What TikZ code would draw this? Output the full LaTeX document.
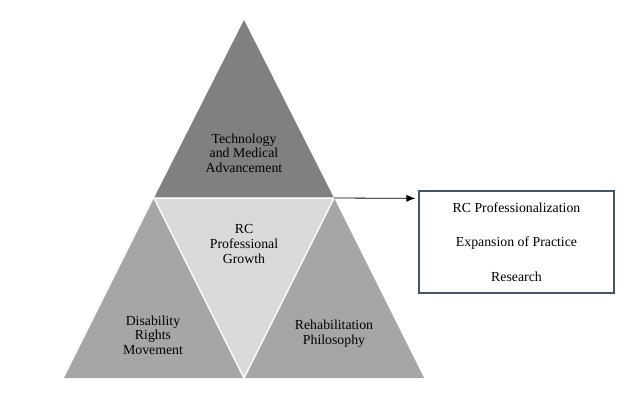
\documentclass[tikz,border=0pt]{standalone}
\usepackage{fontspec}
\setmainfont{Liberation Serif}
\usetikzlibrary{arrows.meta}
\definecolor{darktri}{RGB}{128,128,128}
\definecolor{midtri}{RGB}{166,166,166}
\definecolor{lighttri}{RGB}{217,217,217}
\definecolor{boxline}{RGB}{68,84,106}
\tikzset{
  tri/.style={draw=white, line width=1.5pt, line join=miter},
  label/.style={align=center, font=\fontsize{13.8}{14.7}\selectfont, inner sep=0pt},
  outcome/.style={draw=boxline, line width=1.2pt, minimum width=195pt, minimum height=102pt,
    align=center, font=\fontsize{13.8}{34.5}\selectfont, inner sep=0pt},
  flow/.style={-{Latex[length=9pt,width=7pt]}, line width=0.8pt, shorten >=3pt}
}
\begin{document}
\begin{tikzpicture}[x=1pt, y=-1pt]
  \useasboundingbox (0,0) rectangle (630,412);
  % corners of the pyramid
  \coordinate (apex) at (244,20);
  \coordinate (midleft) at (154,198);
  \coordinate (midright) at (334,198);
  \coordinate (baseleft) at (64,378);
  \coordinate (basemid) at (244,378);
  \coordinate (baseright) at (424,378);

  \fill[darktri] (apex) -- (midleft) -- (midright) -- cycle;
  \fill[lighttri] (midleft) -- (midright) -- (basemid) -- cycle;
  \fill[midtri] (midleft) -- (baseleft) -- (basemid) -- cycle;
  \fill[midtri] (midright) -- (basemid) -- (baseright) -- cycle;
  \draw[tri] (midleft) -- (basemid) -- (midright) -- cycle;

  \node[label] (tech) at (244,153) {Technology\\and Medical\\Advancement};
  \node[label] (growth) at (244,244) {RC\\Professional\\Growth};
  \node[label] (rights) at (153,335) {Disability\\Rights\\Movement};
  \node[label] (philo) at (334,334) {Rehabilitation\\Philosophy};

  \node[outcome] (result) at (516.5,242) {RC Professionalization\\Expansion of Practice\\Research};

  \draw[flow] (midright) -- ([yshift=-8pt]result.north west);
\end{tikzpicture}
\end{document}
